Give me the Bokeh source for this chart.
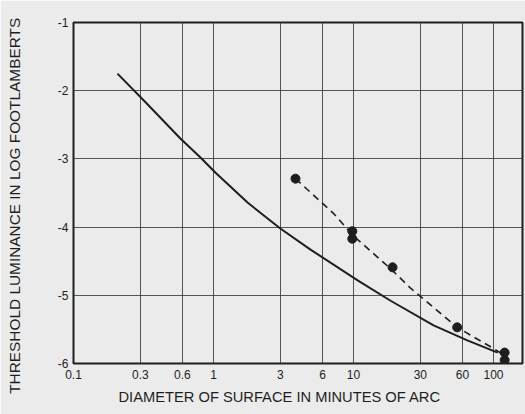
from bokeh.plotting import figure
from bokeh.models import Range1d, FixedTicker, Title
from bokeh.embed import file_html
from bokeh.resources import INLINE

# Solid curve: threshold luminance vs. target diameter
curve_diam = [0.206, 0.327, 0.58, 0.807, 1.03, 1.75, 3.0, 4.93, 10.7,
              18.4, 37.3, 65, 107]
curve_lum = [-1.75, -2.17, -2.70, -2.98, -3.20, -3.64, -4.02, -4.33, -4.78,
             -5.08, -5.44, -5.66, -5.84]

# Measured points and the dashed trend through them
point_diam = [3.85, 9.8, 9.8, 19, 55, 120, 120]
point_lum = [-3.29, -4.06, -4.17, -4.59, -5.47, -5.84, -5.95]
dash_diam = [3.85, 7.2, 10, 18.4, 25.7, 55, 100, 120]
dash_lum = [-3.29, -3.80, -4.13, -4.61, -4.90, -5.47, -5.78, -5.88]

x_ticks = [0.1, 0.3, 0.6, 1, 3, 6, 10, 30, 60, 100]
x_tick_labels = ["0.1", "0.3", "0.6", "1", "3", "6", "10", "30", "60", "100"]
y_ticks = [-1, -2, -3, -4, -5, -6]
y_tick_labels = ["-1", "-2", "-3", "-4", "-5", "-6"]

x_title = "DIAMETER OF SURFACE IN MINUTES OF ARC"
y_title = "THRESHOLD LUMINANCE IN LOG FOOTLAMBERTS"

BG = "#ebebeb"
INK = "#1e1e1e"
FONT = "Liberation Sans"

p = figure(width=525, height=414, x_axis_type="log",
           x_range=Range1d(0.1, 161), y_range=Range1d(-6, -1),
           output_backend="svg", toolbar_location=None,
           min_border_left=73, min_border_right=3,
           min_border_top=22, min_border_bottom=51)
p.background_fill_color = BG
p.border_fill_color = BG
p.outline_line_color = INK
p.outline_line_width = 2

# grid
p.xgrid.ticker = FixedTicker(ticks=x_ticks[1:])
p.ygrid.ticker = FixedTicker(ticks=y_ticks[1:-1])
for g in (p.xgrid, p.ygrid):
    g.grid_line_color = "#3a3a3a"
    g.grid_line_width = 1
    g.grid_line_alpha = 0.85

# axes
p.xaxis.ticker = FixedTicker(ticks=x_ticks)
p.xaxis.major_label_overrides = dict(zip(x_ticks, x_tick_labels))
p.yaxis.ticker = FixedTicker(ticks=y_ticks)
p.yaxis.major_label_overrides = dict(zip(y_ticks, y_tick_labels))
for ax in (p.xaxis, p.yaxis):
    ax.axis_line_color = None
    ax.major_tick_line_color = None
    ax.minor_tick_line_color = None
    ax.major_tick_out = 0
    ax.major_label_text_font = FONT
    ax.major_label_text_font_size = "12px"
    ax.major_label_text_color = INK
p.xaxis.major_label_standoff = 6
p.yaxis.major_label_standoff = 5

# x title as a bottom-panel title so it can be shifted along the axis
p.add_layout(Title(text=x_title, align="left", offset=45, text_font=FONT,
                   text_font_size="14.7px", text_font_style="normal",
                   text_color=INK, standoff=10), "below")

# y title: trailing no-break spaces nudge the centred text downward
p.yaxis.axis_label = y_title + "\u00a0" * 6
p.yaxis.axis_label_text_font = FONT
p.yaxis.axis_label_text_font_size = "15.4px"
p.yaxis.axis_label_text_font_style = "normal"
p.yaxis.axis_label_text_color = INK
p.yaxis.axis_label_standoff = 32

p.line(curve_diam, curve_lum, line_color=INK, line_width=2, line_join="round")
p.line(dash_diam, dash_lum, line_color=INK, line_width=1.6, line_dash="7 5")
p.scatter(point_diam, point_lum, size=9, fill_color=INK, line_color=INK)

open("out.html", "w").write(file_html(p, INLINE))
